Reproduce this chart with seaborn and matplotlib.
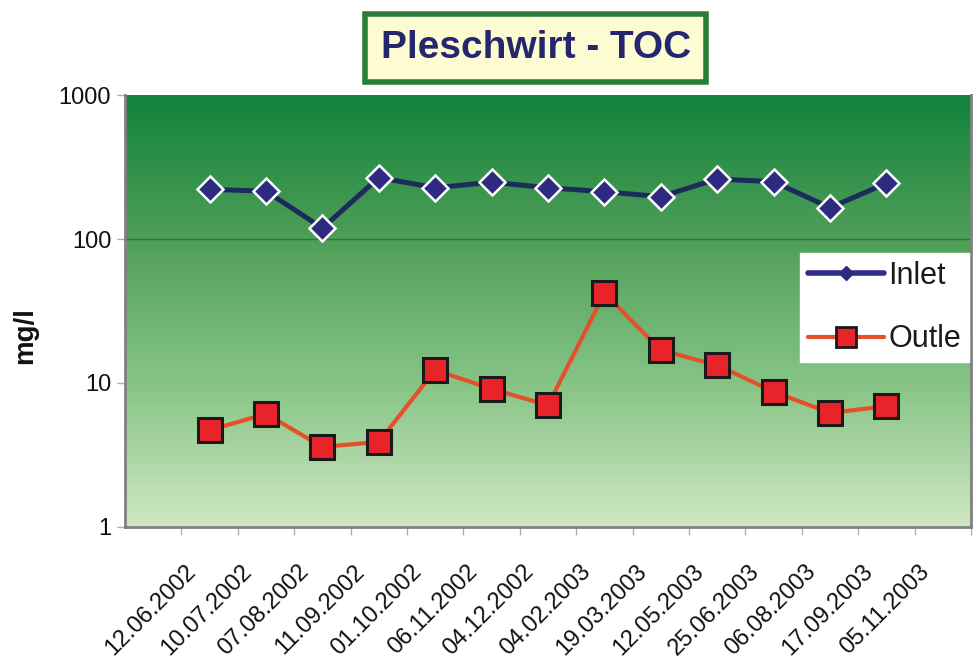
import numpy as np
import matplotlib
matplotlib.use("Agg")
import matplotlib.pyplot as plt
import seaborn as sns
from matplotlib.colors import LinearSegmentedColormap
from matplotlib.lines import Line2D
from matplotlib.transforms import ScaledTranslation

# daten
dates = ["12.06.2002", "10.07.2002", "07.08.2002", "11.09.2002", "01.10.2002",
         "06.11.2002", "04.12.2002", "04.02.2003", "19.03.2003", "12.05.2003",
         "25.06.2003", "06.08.2003", "17.09.2003", "05.11.2003"]
inlet = [221, 215, 119, 267, 227, 248, 227, 213, 197, 261, 250, 165, 244]
outlet = [4.7, 6.1, 3.6, 3.9, 12.3, 9.1, 7.0, 42, 16.9, 13.3, 8.7, 6.2, 6.9]
series_names = ["Inlet", "Outle"]

sns.set_style("white")
plt.rcParams["font.family"] = ["Liberation Sans", "DejaVu Sans"]

fig = plt.figure(figsize=(9.76, 6.58), dpi=100)
ax = fig.add_axes([0.1281, 0.1991, 0.8668, 0.6565])

# hintergrund verlauf (oben dunkel, unten hell)
cmap = LinearSegmentedColormap.from_list(
    "bg", ["#12823c", "#4f9f58", "#86c485", "#cfe7c3"])
grad = np.linspace(0, 1, 256).reshape(-1, 1)
ax.imshow(grad, cmap=cmap, aspect="auto", extent=[0, 1, 0, 1],
          transform=ax.transAxes, zorder=0)

x_data = np.arange(1, len(inlet) + 1)
x_lab = np.arange(1, len(dates) + 1)

sns.lineplot(x=x_data, y=inlet, ax=ax, color="#1c2b5c", linewidth=3.6,
             marker="D", markersize=13, markerfacecolor="#2e2a80",
             markeredgecolor="white", markeredgewidth=1.8, zorder=3)
sns.lineplot(x=x_data, y=outlet, ax=ax, color="#e4502a", linewidth=3.0,
             marker="s", markersize=17, markerfacecolor="#e8232a",
             markeredgecolor="#1a1a1a", markeredgewidth=2.2, zorder=3)

ax.set_yscale("log")
ax.set_ylim(1, 1000)
ax.set_xlim(-0.5, 14.5)
ax.axhline(100, color="#2a5e34", linewidth=1.0, alpha=0.7, zorder=1)

ax.set_yticks([1, 10, 100, 1000])
ax.set_yticklabels(["1", "10", "100", "1000"])
ax.yaxis.set_minor_locator(matplotlib.ticker.NullLocator())
ax.tick_params(axis="y", which="major", length=6, width=1, color="#b0b0b0",
               labelsize=17, labelcolor="#111111", pad=4, left=True)

ax.set_xticks(x_lab)
ax.set_xticklabels(dates, rotation=45, ha="right", va="top",
                   rotation_mode="anchor")
ax.set_xticks(np.arange(0.5, 15, 1), minor=True)
ax.tick_params(axis="x", which="major", length=0, labelsize=17,
               labelcolor="#111111", pad=24)
ax.tick_params(axis="x", which="minor", length=6, width=1, color="#b0b0b0",
               bottom=True)
for lbl in ax.get_xticklabels():
    lbl.set_transform(lbl.get_transform() +
                      ScaledTranslation(-0.25, 0, fig.dpi_scale_trans))

for s in ax.spines.values():
    s.set_color("#808080")
    s.set_linewidth(2)
ax.spines["top"].set_visible(False)

ax.set_xlabel("")
ax.set_ylabel("")
fig.text(0.026, 0.49, "mg/l", rotation=90, fontsize=20, fontweight="bold",
         ha="center", va="center", color="#111111")

# titel
fig.text(0.549, 0.927, "Pleschwirt - TOC", fontsize=28, fontweight="bold",
         color="#26266e", ha="center", va="center",
         bbox=dict(boxstyle="square,pad=0.4", facecolor="#fdfbd2",
                   edgecolor="#2d7d3a", linewidth=4))

handles = [
    Line2D([], [], color="#2e2e88", linewidth=4, marker="D", markersize=7,
           markerfacecolor="#2e2a80", markeredgecolor="#2e2a80"),
    Line2D([], [], color="#e4502a", linewidth=3, marker="s", markersize=14,
           markerfacecolor="#e8232a", markeredgecolor="#1a1a1a",
           markeredgewidth=2),
]
leg = ax.legend(handles, series_names, loc="upper left",
                bbox_to_anchor=(800 / 976, 1 - 253 / 658),
                bbox_transform=fig.transFigure, fontsize=22, frameon=True,
                fancybox=False, framealpha=1, facecolor="white",
                edgecolor="white", borderaxespad=0, borderpad=0.25,
                handlelength=2.5, handletextpad=0.15, labelspacing=1.1)
for t in leg.get_texts():
    t.set_color("#1a1a1a")

fig.savefig("out.png", dpi=100)
